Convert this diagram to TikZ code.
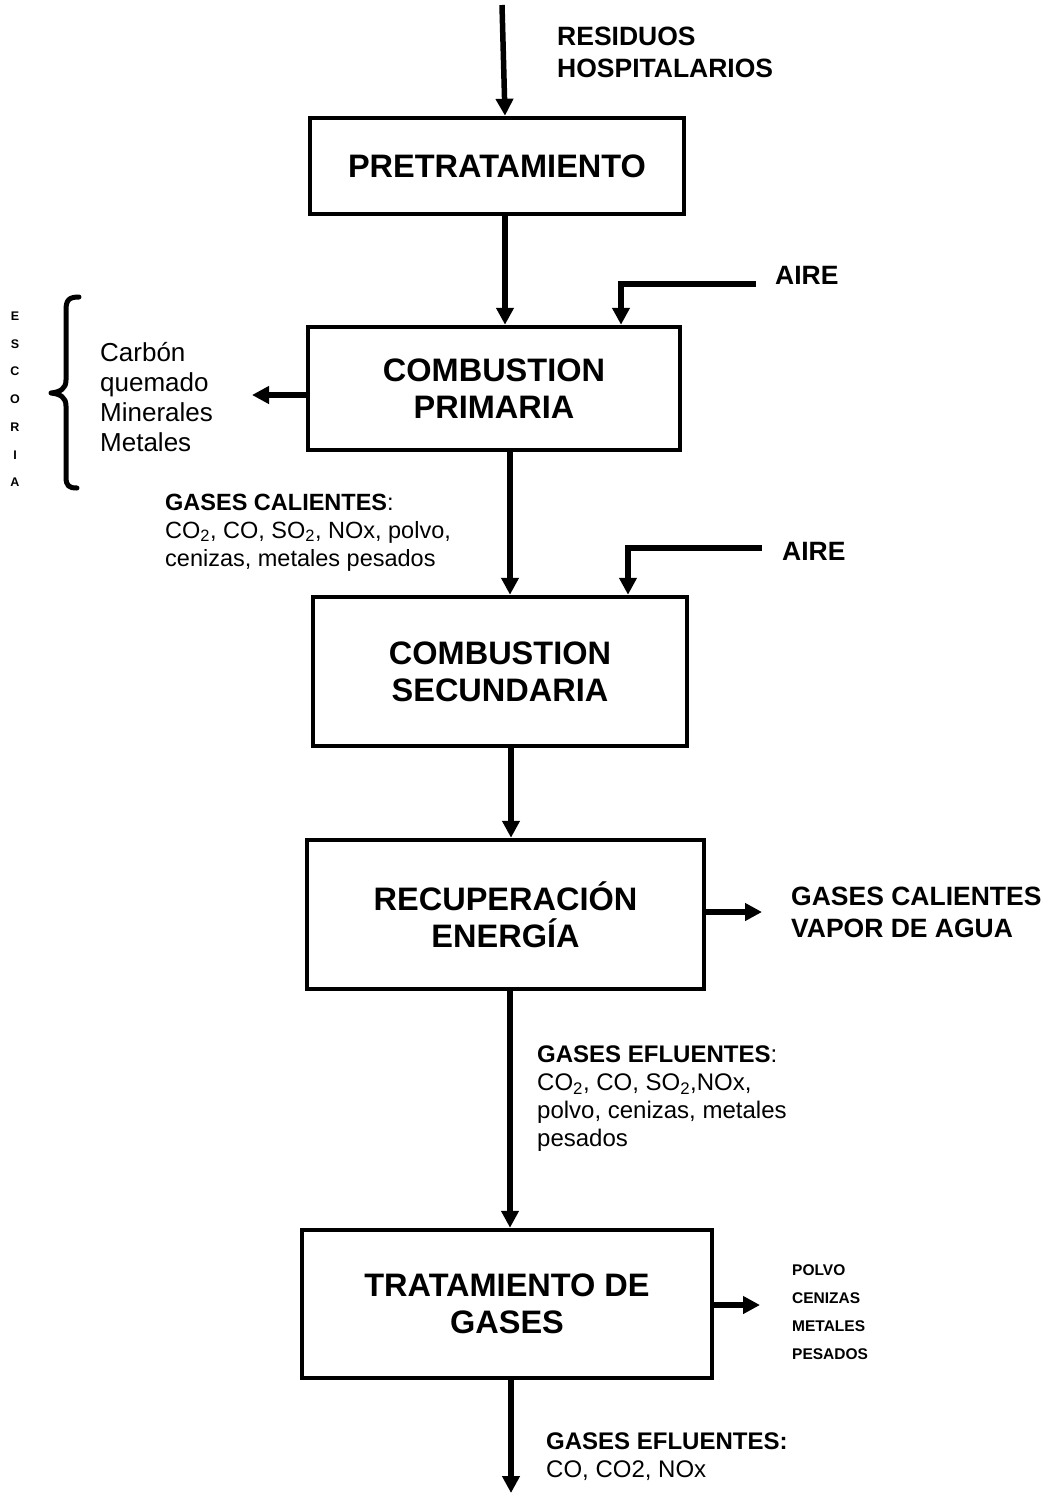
\documentclass[tikz,border=0pt]{standalone}
\usepackage{fontspec}
\setmainfont{Liberation Sans}
\usetikzlibrary{arrows.meta}
\begin{document}
\begin{tikzpicture}[x=1pt,y=-1pt,
  box/.style={draw,line width=4.5pt,inner sep=0pt,align=center,
    font=\fontsize{32.5}{37}\selectfont\bfseries},
  arr/.style={line width=5.5pt,-{Triangle[width=17pt,length=17pt]}},
  lbl/.style={anchor=base west,inner sep=0pt,align=left},
  big/.style={font=\fontsize{26.5}{32}\selectfont\bfseries},
]
\useasboundingbox (0,0) rectangle (1049,1494);
% boxes
\node[box,minimum width=374pt,minimum height=96pt] (pre) at (497,166) {PRETRATAMIENTO};
\node[box,minimum width=372pt,minimum height=123pt] (cp) at (494,388.5) {COMBUSTION\\PRIMARIA};
\node[box,minimum width=374pt,minimum height=149pt] (cs) at (500,671.5) {COMBUSTION\\SECUNDARIA};
\node[box,minimum width=397pt,minimum height=149pt] (re) at (505.5,914.5) {RECUPERACIÓN\\ENERGÍA};
\node[box,minimum width=410pt,minimum height=148pt] (tg) at (507,1304) {TRATAMIENTO DE\\GASES};
% helper coordinates
\coordinate (s0) at (502,5);
\coordinate (x505) at (505,0);
\coordinate (x510) at (510,0);
\coordinate (x511) at (511,0);
\coordinate (x621) at (621,0);
\coordinate (x628) at (628,0);
\coordinate (a1) at (756,284);
\coordinate (a2) at (762,548);
\coordinate (e1) at (252,395);
\coordinate (e2) at (762,912);
\coordinate (e3) at (760,1305);
\coordinate (e4) at (511,1493);
% arrows
\draw[arr] (s0) -- (pre.north -| x505);
\draw[arr] (pre.south -| x505) -- (cp.north -| x505);
\draw[arr] (a1) -| (cp.north -| x621);
\draw[arr] (cp.west |- e1) -- (e1);
\draw[arr] (cp.south -| x510) -- (cs.north -| x510);
\draw[arr] (a2) -| (cs.north -| x628);
\draw[arr] (cs.south -| x511) -- (re.north -| x511);
\draw[arr] (re.east |- e2) -- (e2);
\draw[arr] (re.south -| x510) -- (tg.north -| x510);
\draw[arr] (tg.east |- e3) -- (e3);
\draw[arr] (tg.south -| x511) -- (e4);
% brace
\draw[line width=5pt,line cap=round,line join=round]
  (79,297) .. controls (69,297) and (66,300) .. (66,310) -- (66,380)
  .. controls (66,389) and (60,392) .. (51,393)
  .. controls (60,394) and (66,397) .. (66,406) -- (66,477)
  .. controls (66,486) and (69,488) .. (77,488);
% labels (anchor = baseline of the last line)
\node[lbl,big] (res) at (557,77.5) {RESIDUOS\\HOSPITALARIOS};
\node[lbl,big] (aire1) at (775,284.5) {AIRE};
\node[lbl,big] (aire2) at (782,560) {AIRE};
\node[lbl,big] (gcv) at (791,937.5) {GASES CALIENTES\\VAPOR DE AGUA};
\node[lbl,font=\fontsize{26}{30}\selectfont] (esc) at (100,451) {Carbón\\quemado\\Minerales\\Metales};
\node[anchor=base,inner sep=0pt,align=center,font=\fontsize{12.5}{27.7}\selectfont\bfseries] (escoria) at (15,486.7) {E\\S\\C\\O\\R\\I\\A};
\node[lbl,font=\fontsize{23.5}{28}\selectfont] (gc) at (165,566) {\textbf{GASES CALIENTES}:\\CO\textsubscript{2}, CO, SO\textsubscript{2}, NOx, polvo,\\cenizas, metales pesados};
\node[lbl,font=\fontsize{24}{27.7}\selectfont] (ge1) at (537,1146) {\textbf{GASES EFLUENTES}:\\CO\textsubscript{2}, CO, SO\textsubscript{2},NOx,\\polvo, cenizas, metales\\pesados};
\node[lbl,font=\fontsize{15.5}{28}\selectfont\bfseries] (pol) at (792,1359.5) {POLVO\\CENIZAS\\METALES\\PESADOS};
\node[lbl,font=\fontsize{24}{28}\selectfont] (ge2) at (546,1477) {\textbf{GASES EFLUENTES:}\\CO, CO2, NOx};
\end{tikzpicture}
\end{document}
